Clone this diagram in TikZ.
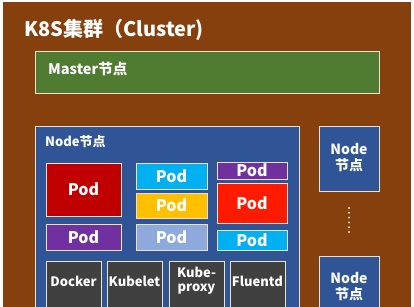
\documentclass[tikz,border=0pt]{standalone}
\usepackage{fontspec}
\setmainfont{Noto Sans CJK SC}
\definecolor{brownbg}{HTML}{86400E}
\definecolor{mastergreen}{HTML}{507C32}
\definecolor{nodeblue}{HTML}{2F5597}
\definecolor{edgecream}{HTML}{EDE3CC}
\definecolor{poddred}{HTML}{C00000}
\definecolor{podred}{HTML}{FF1A00}
\definecolor{podpurple}{HTML}{7030A0}
\definecolor{podcyan}{HTML}{00B0F0}
\definecolor{podorange}{HTML}{FFC000}
\definecolor{podlblue}{HTML}{8EA9DB}
\definecolor{compgrey}{HTML}{404040}
\begin{document}
\begin{tikzpicture}[x=1pt,y=-1pt,
  box/.style={draw=edgecream,line width=0.9pt,inner sep=0pt,outer sep=0pt},
  lbl/.style={text=white,font=\bfseries,inner sep=0pt},
  podtxt/.style={text=white,font=\fontsize{16}{16}\selectfont\bfseries,inner sep=0pt},
  comptxt/.style={text=white,font=\fontsize{13}{14}\selectfont\bfseries,inner sep=0pt,align=center},
  nodetxt/.style={text=white,font=\fontsize{14}{16}\selectfont\bfseries,inner sep=0pt,align=center}]
\useasboundingbox (0,0) rectangle (414,307);
\clip (0,0) rectangle (414,307);
\fill[white] (0,0) rectangle (414,307);
\fill[brownbg] (3,2) rectangle (411,312);
% title
\node[lbl,anchor=west,font=\fontsize{20}{20}\selectfont\bfseries] (title) at (24,30) {K8S集群（Cluster)};
% master
\draw[box,fill=mastergreen] (35,51) rectangle (379,93);
\node[lbl,anchor=west,font=\fontsize{14.5}{14}\selectfont\bfseries] (master) at (48,69) {Master节点};
% main node
\draw[box,fill=nodeblue] (35,126) rectangle (299,315);
\node[lbl,anchor=west,font=\fontsize{13}{13}\selectfont\bfseries] (nodelbl) at (45,142) {Node节点};
% pods
\draw[box,fill=poddred] (46,163) rectangle (121,216);
\node[podtxt] (p1) at (83.5,189.5) {Pod};
\draw[box,fill=podpurple] (46,224) rectangle (121,250);
\node[podtxt] (p2) at (83.5,237) {Pod};
\draw[box,fill=podcyan] (136,163) rectangle (207,189);
\node[podtxt] (p3) at (171.5,176) {Pod};
\draw[box,fill=podorange] (136,193) rectangle (207,218);
\node[podtxt] (p4) at (171.5,205.5) {Pod};
\draw[box,fill=podlblue] (136,224) rectangle (207,250);
\node[podtxt] (p5) at (171.5,237) {Pod};
\draw[box,fill=podpurple] (217,162) rectangle (287,179);
\node[podtxt] (p6) at (252,170.5) {Pod};
\draw[box,fill=podred] (217,183) rectangle (287,223);
\node[podtxt] (p7) at (252,203) {Pod};
\draw[box,fill=podcyan] (217,230) rectangle (287,250);
\node[podtxt] (p8) at (252,240) {Pod};
% components
\draw[box,fill=compgrey] (46,261) rectangle (101,315);
\node[comptxt] (docker) at (73.5,281) {Docker};
\draw[box,fill=compgrey] (107,261) rectangle (162,315);
\node[comptxt] (kubelet) at (134.5,281) {Kubelet};
\draw[box,fill=compgrey] (169,261) rectangle (224,315);
\node[comptxt] (kubeproxy) at (196.5,281) {Kube-\\proxy};
\draw[box,fill=compgrey] (230,261) rectangle (285,315);
\node[comptxt] (fluentd) at (257.5,281) {Fluentd};
% right nodes
\draw[box,fill=nodeblue] (319,126) rectangle (379,191);
\node[nodetxt] (n2) at (349,158) {Node\\节点};
\draw[box,fill=nodeblue] (319,256) rectangle (379,315);
\node[nodetxt] (n3) at (349,287) {Node\\节点};
\coordinate (dtop) at (349,208);
\coordinate (dbot) at (349,232);
\draw[edgecream,line width=2.2pt,line cap=round,dash pattern=on 0pt off 4.8pt] (dtop) -- (dbot);
\end{tikzpicture}
\end{document}
